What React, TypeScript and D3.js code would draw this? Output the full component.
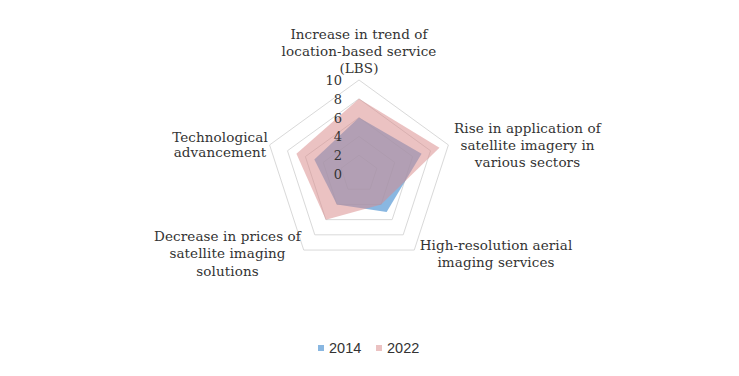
import React from "react";
import * as d3 from "d3";

const categories: string[][] = [
  ["Increase in trend of", "location-based service", "(LBS)"],
  ["Rise in application of", "satellite imagery in", "various sectors"],
  ["High-resolution aerial", "imaging services"],
  ["Decrease in prices of", "satellite imaging", "solutions"],
  ["Technological", "advancement"],
];
const series2014: number[] = [6, 7, 5, 4, 5];
const series2022: number[] = [8, 9, 4, 6, 7];
const seriesNames: string[] = ["2014", "2022"];
const tickValues: number[] = [0, 2, 4, 6, 8, 10];

const W = 739;
const H = 376;
const cx = 359;
const cy = 174;
const R = 94;

// label anchor positions (center x, first baseline y), line height
const labelPos = [
  { x: 359, y: 38.5, lh: 17.3 },
  { x: 527.5, y: 132.5, lh: 17.2 },
  { x: 496, y: 250, lh: 17 },
  { x: 227.5, y: 241, lh: 17.3 },
  { x: 220, y: 141.5, lh: 15.5 },
];

const serif = "'DejaVu Serif', serif";

export default function App() {
  const r = d3.scaleLinear().domain([0, 10]).range([0, R]);
  const n = categories.length;
  const angle = (i: number) => (i * 2 * Math.PI) / n;
  const pt = (i: number, v: number): [number, number] => [
    cx + r(v) * Math.sin(angle(i)),
    cy - r(v) * Math.cos(angle(i)),
  ];
  const line = d3.line<[number, number]>().curve(d3.curveLinearClosed);
  const ring = (v: number) => line(d3.range(n).map((i) => pt(i, v))) || "";
  const poly = (vals: number[]) => line(vals.map((v, i) => pt(i, v))) || "";

  return (
    <svg
      width={W}
      height={H}
      style={{ position: "absolute", left: 0, top: 0, display: "block" }}
    >
      <rect x={0} y={0} width={W} height={H} fill="#ffffff" />
      {tickValues
        .filter((t) => t > 0)
        .map((t) => (
          <path key={t} d={ring(t)} fill="none" stroke="#d9d9d9" strokeWidth={1} />
        ))}
      <path d={poly(series2014)} fill="#5b9bd5" fillOpacity={0.72} />
      <path d={poly(series2022)} fill="#d88a8a" fillOpacity={0.52} />
      {tickValues.map((t) => (
        <text
          key={t}
          x={cx - 17}
          y={cy - r(t) + 5}
          textAnchor="end"
          fontFamily={serif}
          fontSize={13}
          fill="#333333"
        >
          {t}
        </text>
      ))}
      {categories.map((lines, i) => (
        <text
          key={i}
          textAnchor="middle"
          fontFamily={serif}
          fontSize={13.5}
          letterSpacing={0.1}
          fill="#333333"
        >
          {lines.map((l, j) => (
            <tspan key={j} x={labelPos[i].x} y={labelPos[i].y + j * labelPos[i].lh}>
              {l}
            </tspan>
          ))}
        </text>
      ))}
      <g fontFamily="'Liberation Sans', Arial, sans-serif" fontSize={14.5} fill="#333333">
        <rect x={318} y={345} width={6} height={6} fill="#5b9bd5" fillOpacity={0.72} />
        <text x={329} y={352.5}>{seriesNames[0]}</text>
        <rect x={376} y={345} width={6} height={6} fill="#d88a8a" fillOpacity={0.52} />
        <text x={387} y={352.5}>{seriesNames[1]}</text>
      </g>
    </svg>
  );
}
